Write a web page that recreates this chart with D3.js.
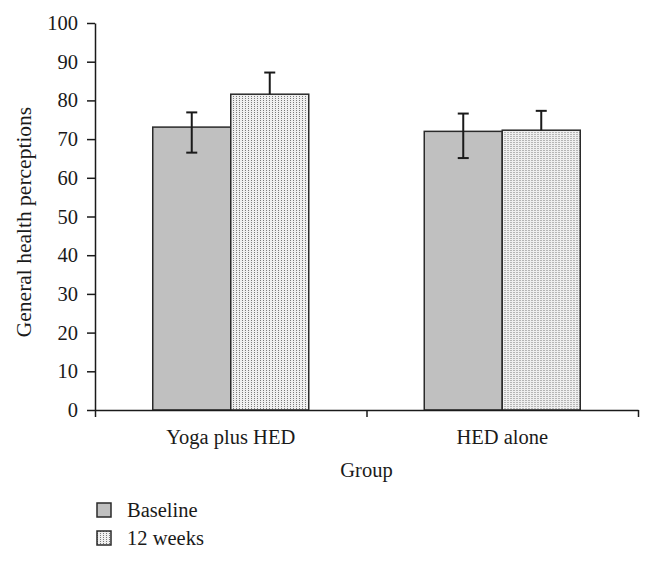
<!DOCTYPE html>
<html>
<head>
<meta charset="utf-8">
<script src="https://cdn.jsdelivr.net/npm/d3@7"></script>
<style>
  html, body { margin: 0; padding: 0; background: #fff; }
  svg { display: block; }
  text { font-family: "Liberation Serif", "Times New Roman", serif; fill: #1a1a1a; }
</style>
</head>
<body>
<script>
const groups = ["Yoga plus HED", "HED alone"];
const series = ["Baseline", "12 weeks"];
const baselineValues = [73.1, 72.0];
const baselineErrHigh = [76.9, 76.6];
const baselineErrLow = [66.5, 65.1];
const weeks12Values = [81.6, 72.3];
const weeks12ErrHigh = [87.2, 77.3];
const yTicks = [0, 10, 20, 30, 40, 50, 60, 70, 80, 90, 100];
const yTitle = "General health perceptions";
const xTitle = "Group";

const W = 653, H = 561;
const FS = 20.5;
const svg = d3.select("body").append("svg").attr("width", W).attr("height", H);

const defs = svg.append("defs");
const pat = defs.append("pattern").attr("id", "dots")
  .attr("patternUnits", "userSpaceOnUse").attr("width", 3).attr("height", 2);
pat.append("rect").attr("width", 3).attr("height", 2).attr("fill", "#efefef");
pat.append("rect").attr("x", 0).attr("y", 0).attr("width", 1).attr("height", 1).attr("fill", "#7a7a7a");

const mLeft = 95, mRight = 638, mTop = 23, mBottom = 410;
const y = d3.scaleLinear().domain([0, 100]).range([mBottom, mTop]);
const x0 = d3.scaleBand().domain(groups).range([mLeft, mRight]).padding(0);
const bw = x0.bandwidth();
const x1 = d3.scaleBand().domain(series).range([bw / 2 - 78, bw / 2 + 78]).padding(0);

const rows = groups.map((g, i) => ({
  group: g,
  bars: [
    { s: series[0], v: baselineValues[i], hi: baselineErrHigh[i], lo: baselineErrLow[i], fill: "#c0c0c0" },
    { s: series[1], v: weeks12Values[i], hi: weeks12ErrHigh[i], lo: null, fill: "url(#dots)" }
  ]
}));

const gBars = svg.append("g");
const gg = gBars.selectAll("g").data(rows).join("g")
  .attr("transform", d => `translate(${x0(d.group)},0)`);

gg.selectAll("rect").data(d => d.bars).join("rect")
  .attr("x", d => x1(d.s))
  .attr("y", d => y(d.v))
  .attr("width", x1.bandwidth())
  .attr("height", d => y(0) - y(d.v))
  .attr("fill", d => d.fill)
  .attr("stroke", "#2a2a2a")
  .attr("stroke-width", 1.5);

gg.each(function(d) {
  const g = d3.select(this);
  d.bars.forEach(b => {
    const cx = x1(b.s) + x1.bandwidth() / 2;
    const yLow = b.lo == null ? y(b.v) : y(b.lo);
    g.append("line").attr("x1", cx).attr("x2", cx).attr("y1", y(b.hi)).attr("y2", yLow)
      .attr("stroke", "#1a1a1a").attr("stroke-width", 2);
    g.append("line").attr("x1", cx - 5.5).attr("x2", cx + 5.5).attr("y1", y(b.hi)).attr("y2", y(b.hi))
      .attr("stroke", "#1a1a1a").attr("stroke-width", 2);
    if (b.lo != null) {
      g.append("line").attr("x1", cx - 5.5).attr("x2", cx + 5.5).attr("y1", y(b.lo)).attr("y2", y(b.lo))
        .attr("stroke", "#1a1a1a").attr("stroke-width", 2);
    }
  });
});

const yAxis = svg.append("g").attr("transform", `translate(${mLeft},0)`)
  .call(d3.axisLeft(y).tickValues(yTicks).tickSize(8).tickPadding(9).tickSizeOuter(0));
yAxis.select(".domain").attr("stroke", "#1a1a1a").attr("stroke-width", 1.5);
yAxis.selectAll(".tick line").attr("stroke", "#1a1a1a").attr("stroke-width", 1.5);
yAxis.selectAll(".tick text").attr("font-family", "Liberation Serif").attr("font-size", FS).attr("fill", "#1a1a1a");

const edges = [mLeft].concat(groups.map(g => x0(g) + bw));
const xAxis = svg.append("g").attr("transform", `translate(0,${mBottom})`)
  .call(d3.axisBottom(d3.scaleLinear().domain([mLeft, mRight]).range([mLeft, mRight]))
    .tickValues(edges).tickSize(7).tickSizeOuter(0).tickFormat(""));
xAxis.select(".domain").attr("stroke", "#1a1a1a").attr("stroke-width", 1.5);
xAxis.selectAll(".tick line").attr("stroke", "#1a1a1a").attr("stroke-width", 1.5);

svg.append("g").selectAll("text").data(groups).join("text")
  .attr("x", d => x0(d) + bw / 2)
  .attr("y", 444)
  .attr("text-anchor", "middle")
  .attr("font-size", FS)
  .text(d => d);

svg.append("text").attr("x", (mLeft + mRight) / 2).attr("y", 477)
  .attr("text-anchor", "middle").attr("font-size", FS).text(xTitle);

svg.append("text")
  .attr("transform", `translate(31,${222}) rotate(-90)`)
  .attr("text-anchor", "middle").attr("font-size", 21.5).text(yTitle);

const legend = svg.append("g").selectAll("g").data(series).join("g")
  .attr("transform", (d, i) => `translate(97,${503 + i * 28})`);
legend.append("rect").attr("width", 14).attr("height", 14)
  .attr("fill", (d, i) => i === 0 ? "#c0c0c0" : "url(#dots)")
  .attr("stroke", "#2a2a2a").attr("stroke-width", 1.5);
legend.append("text").attr("x", 30).attr("y", 14).attr("font-size", FS).text(d => d);
</script>
</body>
</html>
